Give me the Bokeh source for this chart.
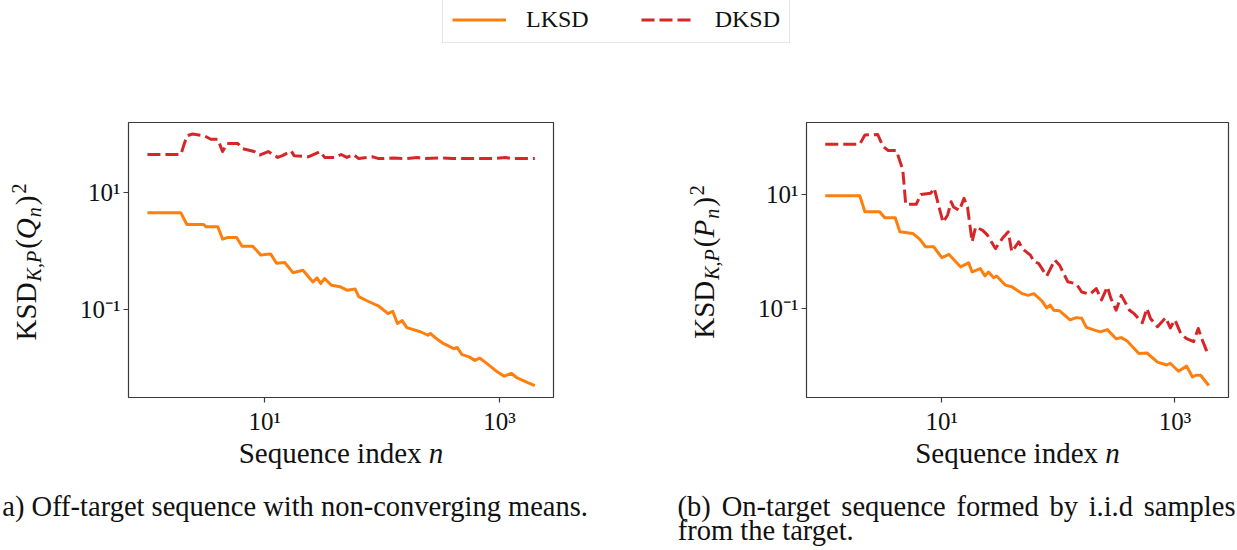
import math
import numpy as np
from bokeh.plotting import figure
from bokeh.models import Range1d, FixedTicker, Label, Legend, LegendItem
from bokeh.layouts import column, row
from bokeh.embed import file_html
from bokeh.resources import INLINE

SERIF = "Liberation Serif"
ORANGE = "#ff7f0e"
RED = "#d62728"
INK = "#111111"

# ---------------- data (log10 of sequence index n, log10 of KSD^2) ----------------
# (a) off-target sequence
a_lksd_logn = [0.0, 0.285, 0.336, 0.479, 0.50, 0.60, 0.641, 0.68, 0.76, 0.806, 0.897, 0.966, 1.0, 1.05,
               1.10, 1.17, 1.24, 1.325, 1.41, 1.445, 1.476, 1.51, 1.567, 1.64, 1.70, 1.77, 1.80, 1.87,
               1.97, 2.05, 2.09, 2.13, 2.17, 2.21, 2.325, 2.39, 2.41, 2.47, 2.52, 2.61, 2.64, 2.68,
               2.74, 2.79, 2.83, 2.89, 2.97, 3.04, 3.10, 3.15, 3.24, 3.30]
a_lksd_logv = [0.653, 0.653, 0.453, 0.453, 0.413, 0.413, 0.202, 0.23, 0.23, 0.082, 0.082, -0.07, -0.06, -0.05,
               -0.21, -0.197, -0.37, -0.33, -0.53, -0.46, -0.556, -0.47, -0.585, -0.61, -0.67, -0.65, -0.78, -0.85,
               -0.94, -1.07, -1.03, -1.24, -1.19, -1.31, -1.38, -1.44, -1.41, -1.51, -1.58, -1.67, -1.65, -1.77,
               -1.81, -1.87, -1.83, -1.92, -2.05, -2.14, -2.09, -2.17, -2.25, -2.30]
a_dksd_logn = [0.0, 0.285, 0.336, 0.385, 0.485, 0.54, 0.60, 0.64, 0.68, 0.77, 0.81, 0.91, 0.955, 1.03,
               1.11, 1.15, 1.225, 1.25, 1.37, 1.47, 1.51, 1.60, 1.65, 1.70, 1.755, 1.80, 1.92, 1.97,
               2.10, 2.20, 2.30, 2.35, 2.50, 2.60, 2.80, 2.95, 3.05, 3.10, 3.30]
a_dksd_logv = [1.65, 1.65, 1.97, 2.0, 1.97, 1.91, 1.91, 1.70, 1.84, 1.84, 1.75, 1.70, 1.64, 1.70,
               1.60, 1.63, 1.71, 1.63, 1.61, 1.70, 1.60, 1.60, 1.65, 1.60, 1.65, 1.58, 1.61, 1.58,
               1.59, 1.58, 1.60, 1.58, 1.59, 1.58, 1.58, 1.58, 1.60, 1.58, 1.58]

# (b) on-target sequence
b_lksd_logn = [0.0, 0.296, 0.34, 0.466, 0.51, 0.60, 0.64, 0.75, 0.81, 0.86, 0.93, 1.0, 1.06, 1.16,
               1.23, 1.26, 1.33, 1.37, 1.40, 1.445, 1.47, 1.545, 1.60, 1.69, 1.74, 1.79, 1.86, 1.90,
               1.93, 1.96, 2.01, 2.10, 2.155, 2.20, 2.24, 2.31, 2.36, 2.42, 2.495, 2.54, 2.59, 2.69,
               2.76, 2.85, 2.93, 2.96, 3.03, 3.10, 3.15, 3.18, 3.22, 3.29]
b_lksd_logv = [0.977, 0.977, 0.696, 0.696, 0.59, 0.59, 0.345, 0.316, 0.216, 0.082, 0.082, -0.11, -0.05, -0.27,
               -0.20, -0.36, -0.30, -0.43, -0.36, -0.46, -0.43, -0.59, -0.62, -0.74, -0.77, -0.74, -0.87, -0.99,
               -0.94, -1.03, -1.04, -1.20, -1.16, -1.17, -1.33, -1.38, -1.41, -1.37, -1.53, -1.51, -1.57, -1.79,
               -1.78, -1.94, -1.99, -1.96, -2.10, -2.01, -2.20, -2.17, -2.17, -2.35]
b_dksd_logn = [0.0, 0.296, 0.34, 0.45, 0.495, 0.54, 0.61, 0.665, 0.69, 0.78, 0.82, 0.905, 0.935, 1.01,
               1.05, 1.08, 1.10, 1.15, 1.19, 1.22, 1.26, 1.29, 1.35, 1.39, 1.46, 1.52, 1.57, 1.60,
               1.66, 1.69, 1.76, 1.79, 1.83, 1.90, 1.97, 2.01, 2.08, 2.155, 2.20, 2.27, 2.325, 2.37,
               2.42, 2.45, 2.495, 2.54, 2.61, 2.65, 2.72, 2.76, 2.79, 2.85, 2.92, 2.96, 3.00, 3.05,
               3.10, 3.16, 3.20, 3.23, 3.275, 3.30]
b_dksd_logv = [1.88, 1.88, 2.04, 2.05, 1.84, 1.77, 1.77, 1.43, 0.825, 0.825, 1.0, 1.02, 1.105, 0.51,
               0.64, 0.87, 0.78, 0.72, 0.93, 0.78, 0.17, 0.43, 0.37, 0.29, 0.05, 0.23, 0.345, -0.005,
               0.17, 0.05, -0.065, -0.18, -0.21, -0.43, -0.15, -0.24, -0.53, -0.57, -0.71, -0.75, -0.65, -0.85,
               -0.62, -0.82, -1.03, -0.77, -1.03, -1.09, -1.25, -1.0, -1.175, -1.32, -1.16, -1.34, -1.20, -1.44,
               -1.53, -1.58, -1.35, -1.53, -1.76, -1.70]

series_names = ["LKSD", "DKSD"]
x_tick_values = [10, 1000]
x_tick_labels = ["10\u00b9", "10\u00b3"]
y_tick_values = [0.1, 10]
y_tick_labels = ["10\u207b\u00b9", "10\u00b9"]
x_label = ["Sequence index", "n"]
caption_a = "a) Off-target sequence with non-converging means."
caption_b1 = "(b) On-target sequence formed by i.i.d samples"
caption_b2 = "from the target."

# approximate Times-like advance widths (em), used only to place composed text pieces
ROMAN = dict(zip("abcdefghijklmnopqrstuvwxyz",
                 [.444, .5, .444, .5, .444, .333, .5, .5, .278, .278, .5, .278, .778, .5, .5, .5, .5,
                  .333, .389, .278, .5, .5, .722, .5, .5, .444]))
ROMAN.update({"K": .722, "S": .556, "D": .722, "P": .556, "Q": .722, "O": .722, " ": .25, "(": .333,
              ")": .333, "-": .333, ".": .25, ",": .25, "2": .5})
ITALIC = {"K": .667, "P": .611, "Q": .722, "n": .5, ",": .25}
MID = 0.3375     # centre of the text box above the baseline, in em


def tw(s, size, style="normal"):
    table = ITALIC if style == "italic" else ROMAN
    return sum(table.get(ch, 0.5) for ch in s) * size


def strip(width, height, border_top=0, border_bottom=0):
    fh = height - border_top - border_bottom
    f = figure(width=width, height=height, x_range=Range1d(0, width), y_range=Range1d(0, fh),
               output_backend="svg", toolbar_location=None, title=None,
               min_border_left=0, min_border_right=0,
               min_border_top=border_top, min_border_bottom=border_bottom,
               x_axis_location=None, y_axis_location=None)
    f.xgrid.visible = False
    f.ygrid.visible = False
    f.outline_line_color = None
    return f


def lab_c(f, x, y, text, size, style="normal", angle=0.0):
    """Label whose text box is centred on (x, y)."""
    f.add_layout(Label(x=x, y=y, text=text, text_font=SERIF, text_font_style=style,
                       text_font_size=f"{size}px", text_color=INK, angle=angle, angle_units="rad",
                       text_align="center", text_baseline="middle"))


def lab_base(f, x_left, y_base, text, size, style="normal"):
    """Horizontal text starting at x_left with its baseline at y_base (data units = px, y up)."""
    w = tw(text, size, style)
    lab_c(f, x_left + w / 2, y_base + MID * size, text, size, style)


ROW_TOP = 60     # page y where the panel row starts
ROW_H = 377      # panel row height
TOP_B = 62       # space above frames
FRAME_H = 275
BOT_B = ROW_H - TOP_B - FRAME_H


def make_panel(width, bl, br, ymin, ymax, lk_n, lk_v, dk_n, dk_v):
    p = figure(width=width, height=ROW_H, x_axis_type="log", y_axis_type="log",
               x_range=Range1d(0.69, 2880), y_range=Range1d(ymin, ymax),
               output_backend="svg", toolbar_location=None, title=None,
               min_border_left=bl, min_border_right=br, min_border_top=TOP_B,
               min_border_bottom=BOT_B)
    p.xgrid.visible = False
    p.ygrid.visible = False
    p.outline_line_color = "#3a3a3a"
    p.outline_line_width = 1.2
    for ax in (p.xaxis, p.yaxis):
        ax.axis_line_color = None
        ax.major_tick_in = 0
        ax.major_tick_out = 5
        ax.major_tick_line_color = "#3a3a3a"
        ax.major_tick_line_width = 1.2
        ax.minor_tick_line_color = None
        ax.major_label_text_font = SERIF
        ax.major_label_text_font_size = "25px"
        ax.major_label_text_color = INK
    p.xaxis.ticker = FixedTicker(ticks=x_tick_values, minor_ticks=[])
    p.xaxis.major_label_overrides = dict(zip(x_tick_values, x_tick_labels))
    p.xaxis.major_label_standoff = 5
    p.yaxis.ticker = FixedTicker(ticks=y_tick_values, minor_ticks=[])
    p.yaxis.major_label_overrides = dict(zip(y_tick_values, y_tick_labels))
    p.yaxis.major_label_standoff = 3

    p.line(np.power(10.0, lk_n), np.power(10.0, lk_v), line_color=ORANGE, line_width=3, line_join="round")
    p.line(np.power(10.0, dk_n), np.power(10.0, dk_v), line_color=RED, line_width=3,
           line_dash="13 5", line_join="round")
    return p


def make_ylabel(width, base_x, sym):
    # frame of this strip coincides with the panel frame (page y 122..397)
    f = strip(width, ROW_H, TOP_B, BOT_B)
    # pieces: text, size, style, baseline shift (+ = towards subscript), gap after
    pieces = [("KSD", 29, "normal", 0, 1), ("K,P", 20, "italic", 5, 2), ("(", 29, "normal", 0, 0),
              (sym, 29, "italic", 0, 1), ("n", 20, "italic", 5, 2), (")", 29, "normal", 0, 2),
              ("2", 20, "normal", -10, 0)]
    total = sum(tw(t, s, st) + g for t, s, st, _, g in pieces)
    centre = FRAME_H / 2 - 2
    ycur = centre - total / 2
    for t, s, st, sh, g in pieces:
        w = tw(t, s, st)
        # text is rotated counter-clockwise: glyph tops point to the left
        lab_c(f, base_x + sh - MID * s, ycur + w / 2, t, s, st, angle=math.pi / 2)
        ycur += w + g
    return f


# ---------------- legend strip (0..60 px) ----------------
lf = strip(1237, ROW_TOP)
r1 = lf.line([-10, -9], [-10, -9], line_color=ORANGE, line_width=3)
r2 = lf.line([-10, -9], [-10, -9], line_color=RED, line_width=3, line_dash="13 5")
leg = Legend(items=[LegendItem(label=series_names[0], renderers=[r1]),
                    LegendItem(label=series_names[1], renderers=[r2])],
             orientation="horizontal", location=(442, 17),
             padding=9, spacing=52, glyph_width=54, glyph_height=25, label_height=25,
             label_standoff=20, label_text_font=SERIF, label_text_font_size="24px",
             label_text_color=INK, border_line_color="#cccccc", border_line_width=1,
             background_fill_color="white", background_fill_alpha=1.0)
lf.add_layout(leg)

# ---------------- panels row (60..437 px) ----------------
ylab_a = make_ylabel(60, 35, "Q")
left = make_panel(560, 68, 67, 10 ** -2.504, 10 ** 2.197,
                  a_lksd_logn, a_lksd_logv, a_dksd_logn, a_dksd_logv)
ylab_b = make_ylabel(120, 93, "P")
right = make_panel(497, 66, 9, 10 ** -2.56, 10 ** 2.26,
                   b_lksd_logn, b_lksd_logv, b_dksd_logn, b_dksd_logv)

# ---------------- bottom strip (437..549 px): x labels and captions ----------------
BOT_H = 112
bf = strip(1237, BOT_H)


def ypage(py):
    return ROW_TOP + ROW_H + BOT_H - py


XS = 29
for centre in (340.5, 1017.0):
    w1 = tw(x_label[0], XS)
    total = w1 + tw(" ", XS) + tw(x_label[1], XS, "italic")
    x0 = centre - total / 2
    lab_base(bf, x0, ypage(462), x_label[0], XS)
    lab_base(bf, x0 + w1 + tw(" ", XS), ypage(462), x_label[1], XS, "italic")

CS = 28.5
lab_base(bf, 1, ypage(516), caption_a, CS)
# caption (b), first line justified between x=677 and x=1235
words = caption_b1.split(" ")
widths = [tw(w, CS) for w in words]
gap = (1235 - 677 - sum(widths)) / (len(words) - 1)
xc = 677.0
for w, wd in zip(words, widths):
    lab_base(bf, xc, ypage(516), w, CS)
    xc += wd + gap
lab_base(bf, 677, ypage(540), caption_b2, CS)

layout = column(lf, row(ylab_a, left, ylab_b, right), bf)
open("out.html", "w").write(file_html(layout, INLINE))
